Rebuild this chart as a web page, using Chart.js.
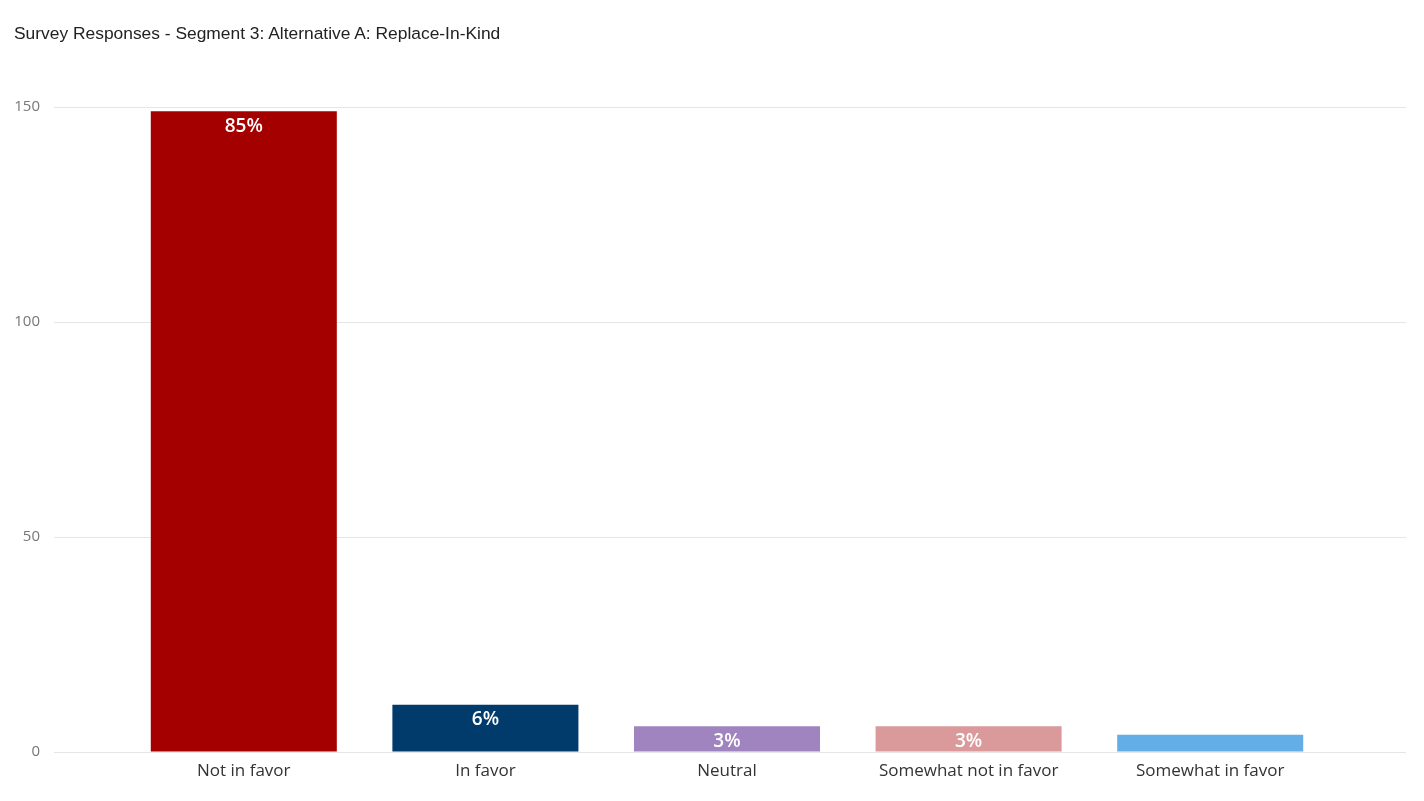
<!DOCTYPE html>
<html>
<head>
<meta charset="utf-8">
<script src="https://cdn.jsdelivr.net/npm/chart.js@4/dist/chart.umd.min.js"></script>
<style>
  html, body { margin: 0; padding: 0; background: #fff; }
  #wrap { position: relative; width: 1424px; height: 801px; }
  #title { position: absolute; left: 14px; top: 23px; font: 17.4px "Liberation Sans", Arial, sans-serif; color: #222; }
  #chart { position: absolute; left: 0; top: 0; }
</style>
</head>
<body>
<div id="wrap">
  <canvas id="chart" width="1424" height="801"></canvas>
  <div id="title">Survey Responses - Segment 3: Alternative A: Replace-In-Kind</div>
</div>
<script>
const categories = ['Not in favor', 'In favor', 'Neutral', 'Somewhat not in favor', 'Somewhat in favor']
const responses = [149, 11, 6, 6, 4]
const barColors = ['#a50000', '#003b6c', '#9f84bf', '#da9a9b', '#63aee6']
const yTicks = [0, 50, 100, 150]

const total = responses.reduce((a, b) => a + b, 0)

// percent labels inside the top of each bar, skipped when the bar is too short
const pctLabels = {
    id: 'pctLabels',
    afterDatasetsDraw(chart) {
        const ctx = chart.ctx
        const meta = chart.getDatasetMeta(0)
        ctx.save()
        ctx.fillStyle = '#fff'
        ctx.font = '600 19px "Open Sans", "Noto Sans", sans-serif'
        ctx.textAlign = 'center'
        ctx.textBaseline = 'middle'
        meta.data.forEach((bar, i) => {
            const h = bar.base - bar.y
            if (h < 22) return
            const pct = Math.round(responses[i] / total * 100)
            ctx.fillText(pct + '%', bar.x, bar.y + 15)
        })
        ctx.restore()
    }
}

const gridColor = '#e6e6e6'

new Chart(document.getElementById('chart'), {
    type: 'bar',
    data: {
        labels: categories,
        datasets: [{
            data: responses,
            backgroundColor: barColors,
            borderWidth: 0,
            barPercentage: 1,
            categoryPercentage: 0.77,
            yAxisID: 'y',
        }]
    },
    options: {
        responsive: false,
        animation: false,
        devicePixelRatio: 1,
        layout: { padding: { top: 107, bottom: 0, left: 0, right: 0 } },
        plugins: {
            legend: { display: false },
            tooltip: { enabled: false },
        },
        scales: {
            x: {
                grid: { display: false },
                border: { display: false },
                ticks: {
                    color: '#333',
                    font: { family: '"Open Sans", "Noto Sans", sans-serif', size: 17 },
                    padding: 1,
                    maxRotation: 0,
                    autoSkip: false,
                },
                afterFit: s => { s.height = 49 },
            },
            y: {
                position: 'left',
                min: 0,
                max: 150,
                afterBuildTicks: s => { s.ticks = yTicks.map(v => ({ value: v })) },
                grid: { color: gridColor, tickLength: 69, tickColor: gridColor },
                border: { display: false },
                ticks: {
                    color: '#777',
                    font: { family: '"Open Sans", "Noto Sans", sans-serif', size: 15 },
                    padding: 14,
                },
                afterFit: s => { s.width = 123 },
            },
            y2: {
                position: 'right',
                min: 0,
                max: 150,
                afterBuildTicks: s => { s.ticks = yTicks.map(v => ({ value: v })) },
                grid: { drawOnChartArea: false, color: gridColor, tickLength: 75, tickColor: gridColor },
                border: { display: false },
                ticks: { display: false },
                afterFit: s => { s.width = 93 },
            }
        }
    },
    plugins: [pctLabels]
})
</script>
</body>
</html>
